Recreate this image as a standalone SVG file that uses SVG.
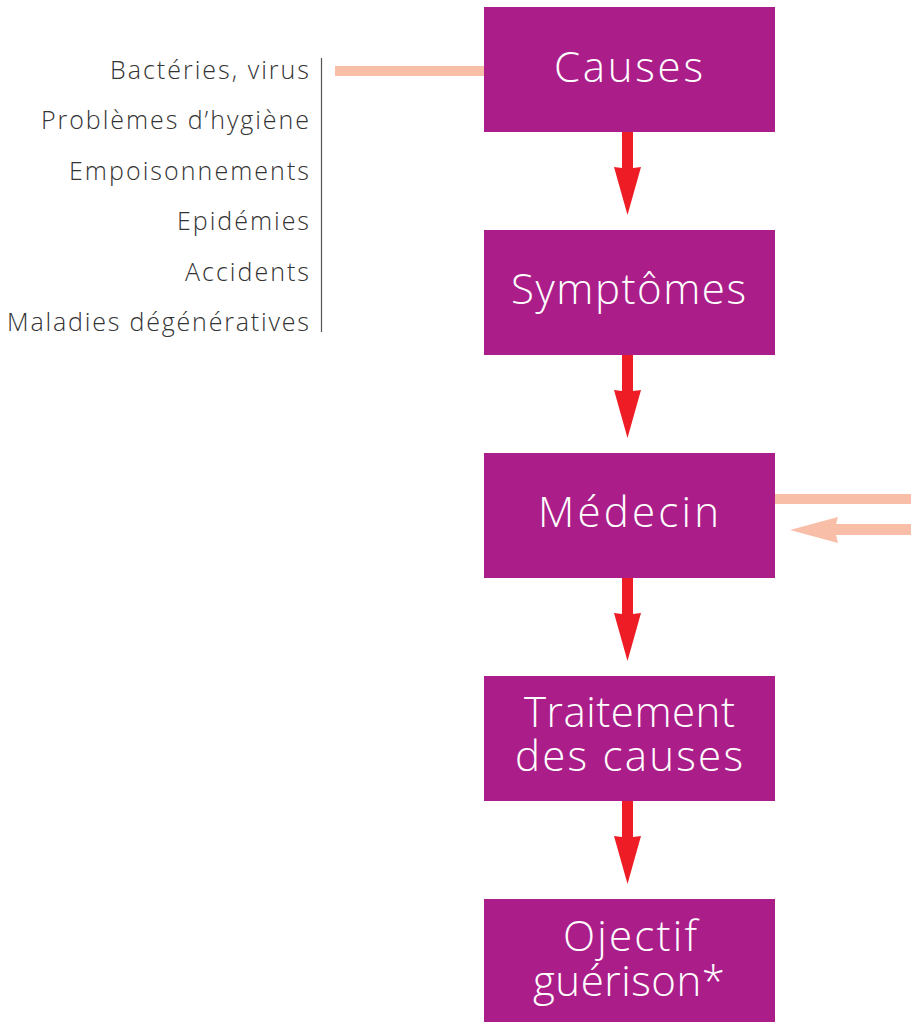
<svg xmlns="http://www.w3.org/2000/svg" width="911" height="1022" viewBox="0 0 911 1022">
<style>
.box{fill:#AB1E8A}
.bt{fill:#fff;font-family:"Open Sans","Liberation Sans",sans-serif;font-weight:300;font-size:42px;text-anchor:middle}
.lt{fill:#333;font-family:"Open Sans",Lato,sans-serif;font-weight:300;font-size:25px;text-anchor:end}
.red{fill:#EE1C25}
.pink{fill:#F9BEA7}
</style>
<rect width="911" height="1022" fill="#fff"/>
<g id="causes-list">
<text class="lt" x="309" y="79" textLength="199" lengthAdjust="spacing">Bactéries, virus</text>
<text class="lt" x="309" y="129" textLength="268" lengthAdjust="spacing">Problèmes d’hygiène</text>
<text class="lt" x="309" y="180" textLength="240" lengthAdjust="spacing">Empoisonnements</text>
<text class="lt" x="309" y="230" textLength="132" lengthAdjust="spacing">Epidémies</text>
<text class="lt" x="309" y="281" textLength="124" lengthAdjust="spacing">Accidents</text>
<text class="lt" x="309" y="331" textLength="302" lengthAdjust="spacing">Maladies dégénératives</text>
<line x1="321.5" y1="58" x2="321.5" y2="332" stroke="#555" stroke-width="1.2"/>
</g>
<g id="node-causes"><rect class="box" x="484" y="7" width="291" height="125"/><text class="bt" x="628.5" y="82" textLength="149" lengthAdjust="spacing">Causes</text></g>
<g id="node-symptomes"><rect class="box" x="484" y="230" width="291" height="125"/><text class="bt" x="628.5" y="304" textLength="235" lengthAdjust="spacing">Symptômes</text></g>
<g id="node-medecin"><rect class="box" x="484" y="453" width="291" height="125"/><text class="bt" x="628.5" y="527" textLength="181" lengthAdjust="spacing">Médecin</text></g>
<g id="node-traitement"><rect class="box" x="484" y="676" width="291" height="125"/><text class="bt" x="629.5" y="727" textLength="211" lengthAdjust="spacing">Traitement</text><text class="bt" x="629" y="771" textLength="228" lengthAdjust="spacing">des causes</text></g>
<g id="node-objectif"><rect class="box" x="484" y="899" width="291" height="123"/><text class="bt" x="630" y="951" textLength="134" lengthAdjust="spacing">Ojectif</text><text class="bt" x="629" y="996" textLength="192" lengthAdjust="spacing">guérison*</text></g>
<g id="connectors">
<rect class="pink" x="335" y="66" width="149" height="10"/>
<rect class="pink" x="775" y="494" width="136" height="10"/>
<polygon class="pink" points="790,530 838,517 836,524 911,524 911,535 836,535 838,543"/>
<g class="red">
<polygon points="622,132 633,132 633,168 641,167 627.5,215 614,167 622,168"/>
<polygon points="622,355 633,355 633,391 641,390 627.5,438 614,390 622,391"/>
<polygon points="622,578 633,578 633,614 641,613 627.5,661 614,613 622,614"/>
<polygon points="622,801 633,801 633,837 641,836 627.5,884 614,836 622,837"/>
</g>
</g>
</svg>
